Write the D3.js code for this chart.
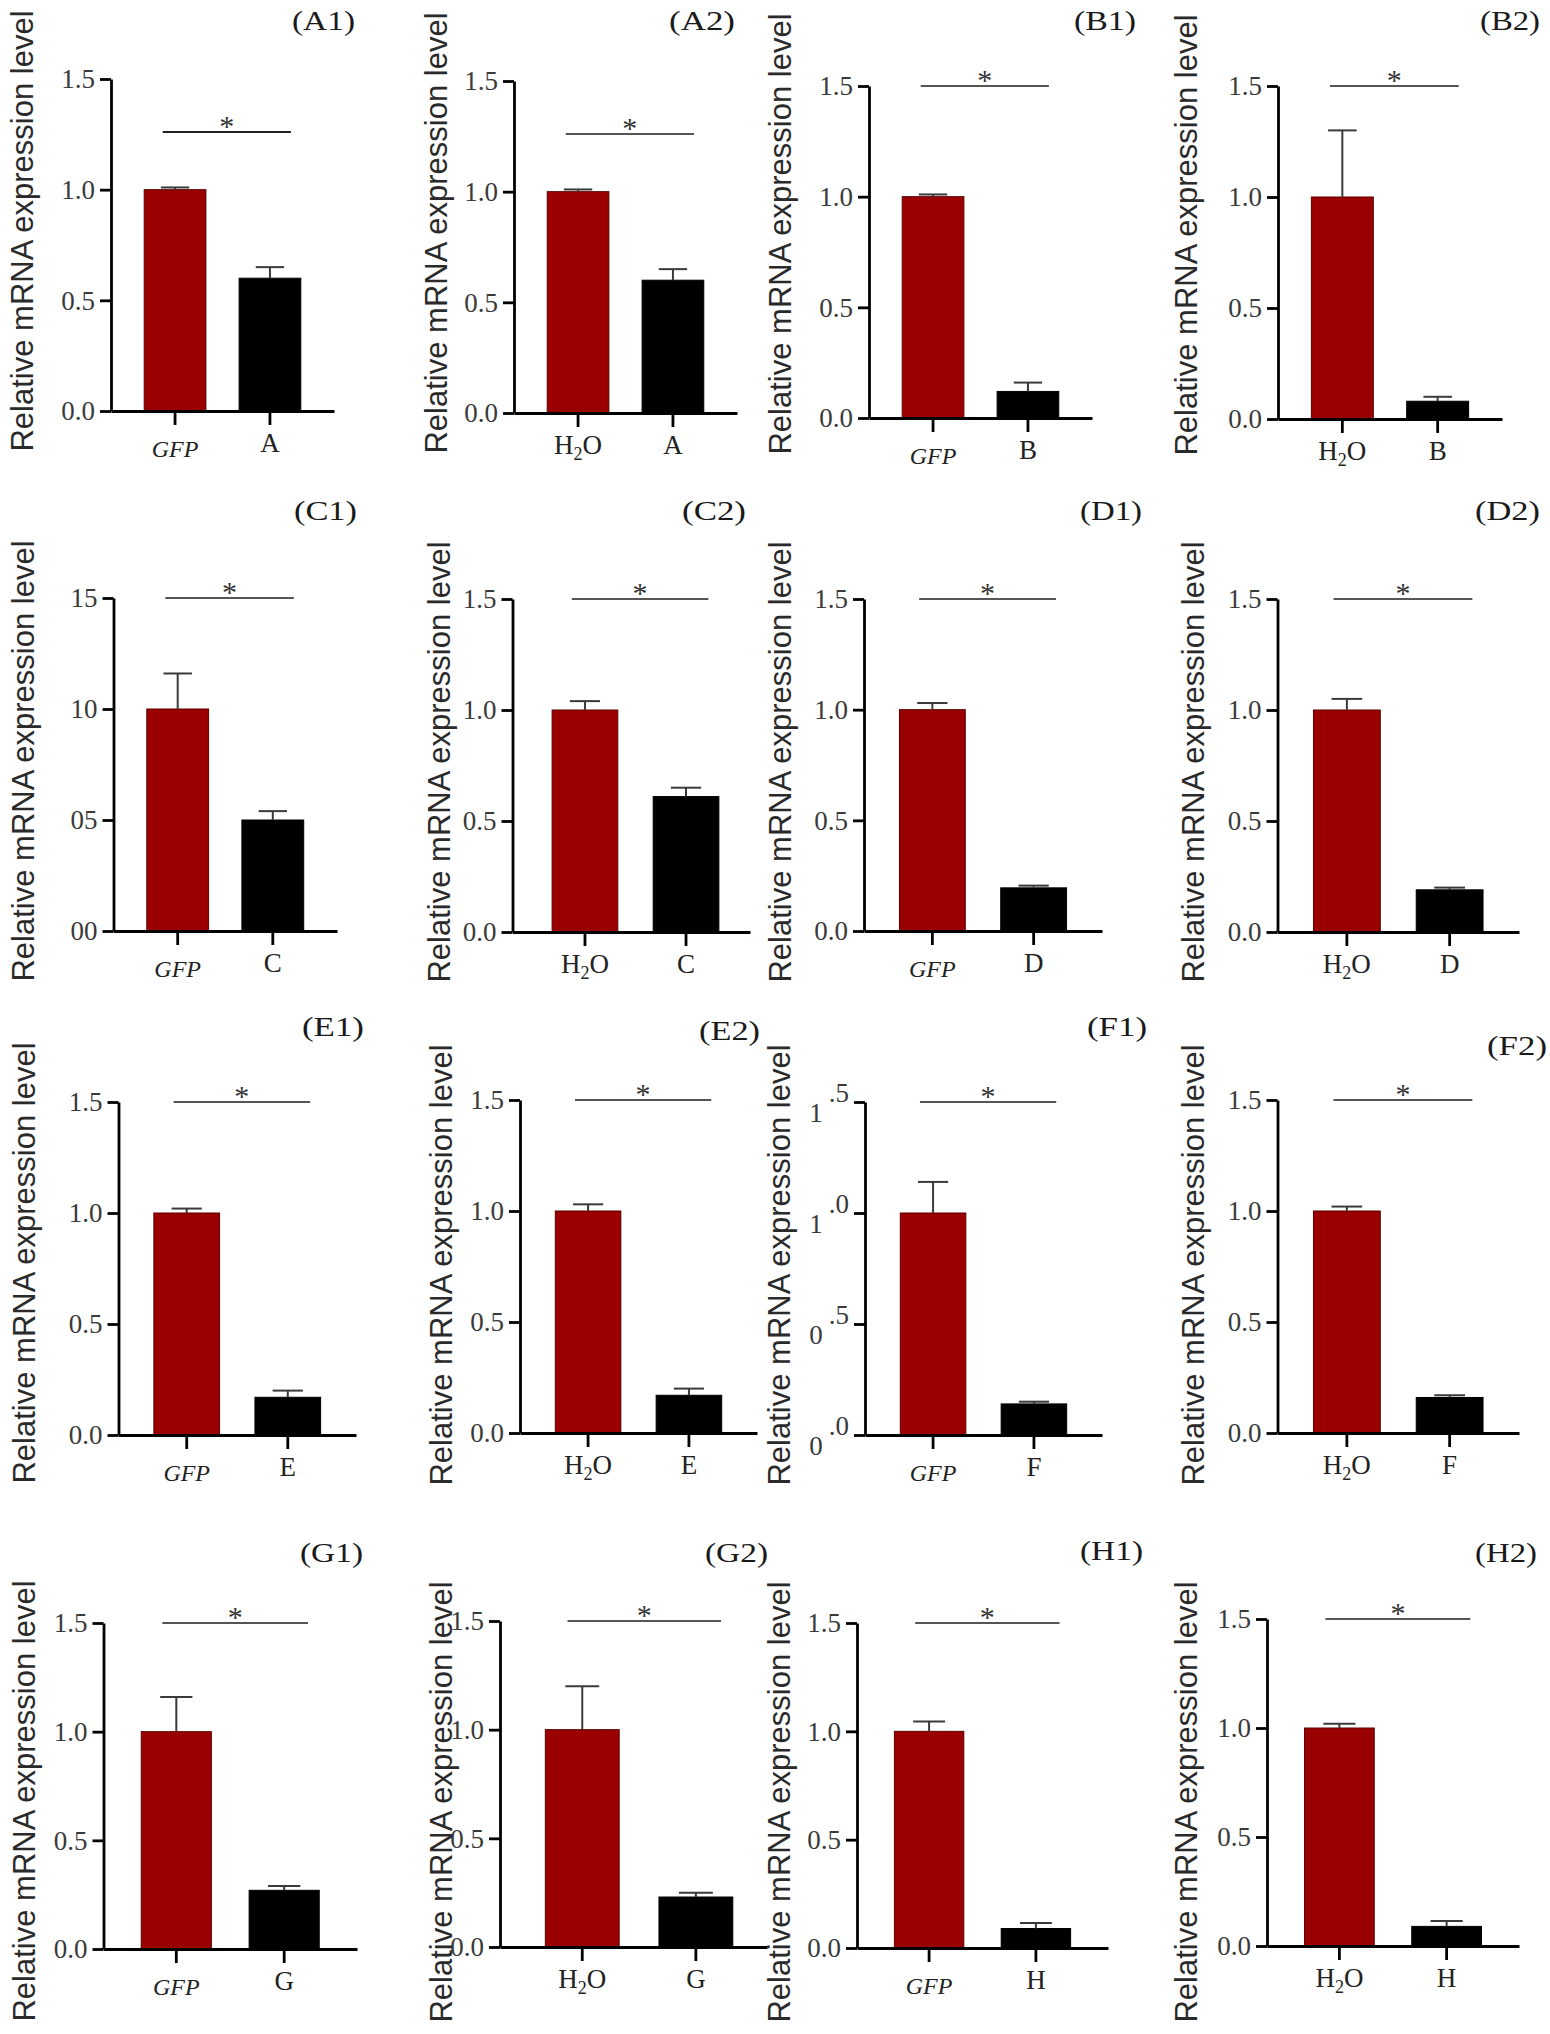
<!DOCTYPE html>
<html><head><meta charset="utf-8">
<script src="https://cdn.jsdelivr.net/npm/d3@7"></script>
<style>body{margin:0;background:#fff} svg{display:block}</style>
</head><body>
<svg id="fig" width="1550" height="2034"></svg>
<script>
// ---------- DATA ----------
const panelIds      = ["A1","A2","B1","B2","C1","C2","D1","D2","E1","E2","F1","F2","G1","G2","H1","H2"];
const controlLabels = ["GFP","H2O","GFP","H2O","GFP","H2O","GFP","H2O","GFP","H2O","GFP","H2O","GFP","H2O","GFP","H2O"];
const geneLabels    = ["A","A","B","B","C","C","D","D","E","E","F","F","G","G","H","H"];
const controlValues = [1,1,1,1,10,1,1,1,1,1,1,1,1,1,1,1];
const controlErrors = [0.01,0.01,0.01,0.30,1.6,0.04,0.03,0.05,0.02,0.03,0.14,0.02,0.16,0.20,0.045,0.02];
const geneValues    = [0.60,0.60,0.12,0.08,5.0,0.61,0.195,0.19,0.17,0.17,0.14,0.16,0.27,0.23,0.09,0.09];
const geneErrors    = [0.05,0.05,0.04,0.02,0.4,0.04,0.01,0.01,0.03,0.03,0.01,0.01,0.02,0.02,0.025,0.025];
const yMaxValues    = [1.5,1.5,1.5,1.5,15,1.5,1.5,1.5,1.5,1.5,1.5,1.5,1.5,1.5,1.5,1.5];
const bracketLevels = [1.26,1.26,1.5,1.5,15,1.5,1.5,1.5,1.5,1.5,1.5,1.5,1.5,1.5,1.5,1.5];
const tickValuesStd = [0,0.5,1.0,1.5];
const tickLabelsStd = ["0.0","0.5","1.0","1.5"];
const tickValuesC1  = [0,5,10,15];
const tickLabelsC1  = ["00","05","10","15"];
const yAxisTitle    = "Relative mRNA expression level";
const sigMark       = "*";

// ---------- LAYOUT (panel frames) ----------
const layout = [
  {ax:111,   xe:334,  y0:411,  yt:79,   tx:292,  tw:63, ty:30,   lx:33,   ly:231},
  {ax:514,   xe:737,  y0:413,  yt:81,   tx:669,  tw:66, ty:30,   lx:447,  ly:233},
  {ax:869,   xe:1092, y0:418,  yt:86,   tx:1074, tw:62, ty:30,   lx:791,  ly:234},
  {ax:1278,  xe:1502, y0:419,  yt:86,   tx:1480, tw:60, ty:30,   lx:1197, ly:235},
  {ax:113.5, xe:337,  y0:931,  yt:598,  tx:294,  tw:63, ty:520,  lx:34,   ly:761},
  {ax:512.5, xe:750,  y0:932,  yt:599,  tx:682,  tw:64, ty:520,  lx:450,  ly:762, align:0.56},
  {ax:864,   xe:1102, y0:931,  yt:599,  tx:1080, tw:62, ty:520,  lx:791,  ly:762},
  {ax:1277.5,xe:1519, y0:932,  yt:599,  tx:1475, tw:65, ty:520,  lx:1204, ly:762},
  {ax:118.5, xe:356,  y0:1435, yt:1102, tx:302,  tw:62, ty:1036, lx:35,   ly:1263},
  {ax:520,   xe:757,  y0:1433, yt:1100, tx:699,  tw:61, ty:1040, lx:452,  ly:1265},
  {ax:865,   xe:1102, y0:1435, yt:1102, tx:1087, tw:60, ty:1036, lx:790,  ly:1265, split:true},
  {ax:1277.5,xe:1519, y0:1433, yt:1100, tx:1487, tw:60, ty:1055, lx:1204, ly:1265},
  {ax:103.5, xe:357,  y0:1949, yt:1623, tx:300,  tw:63, ty:1562, lx:35,   ly:1801},
  {ax:500,   xe:767,  y0:1947, yt:1621, tx:705,  tw:63, ty:1562, lx:452,  ly:1802, align:0.57},
  {ax:857,   xe:1108, y0:1948, yt:1623, tx:1080, tw:63, ty:1560, lx:790,  ly:1802},
  {ax:1267,  xe:1519, y0:1946, yt:1619, tx:1475, tw:62, ty:1562, lx:1197, ly:1802}
];

const SERIF = "'Liberation Serif','Times New Roman',serif";
const SANS  = "'Liberation Sans',Arial,sans-serif";
const RED = "#9b0000";

const svg = d3.select("#fig");
svg.append("rect").attr("width",1550).attr("height",2034).attr("fill","#fff");

panelIds.forEach((id, i) => {
  const L = layout[i];
  const g = svg.append("g").attr("class","panel-"+id);
  const cats = [controlLabels[i], geneLabels[i]];
  const vals = [controlValues[i], geneValues[i]];
  const errs = [controlErrors[i], geneErrors[i]];
  const keys = ["c","g"];

  const x = d3.scaleBand().domain(keys).range([L.ax, L.xe])
    .paddingInner(0.35).paddingOuter(0.35).align(L.align ?? 0.5);
  const y = d3.scaleLinear().domain([0, yMaxValues[i]]).range([L.y0, L.yt]);
  const bw = x.bandwidth();

  const isC1 = id === "C1";
  const tv = isC1 ? tickValuesC1 : tickValuesStd;
  const tl = isC1 ? tickLabelsC1 : tickLabelsStd;

  // bars
  g.selectAll("rect.bar").data(keys).join("rect")
    .attr("x", k => x(k))
    .attr("y", (k,j) => y(vals[j]))
    .attr("width", bw)
    .attr("height", (k,j) => y(0) - y(vals[j]))
    .attr("fill", (k,j) => j === 0 ? RED : "#000")
    .attr("stroke", (k,j) => j === 0 ? "#5a0000" : "#000")
    .attr("stroke-width", 1);

  // error bars (upper)
  keys.forEach((k,j) => {
    const cx = x(k) + bw/2;
    const yTop = y(vals[j] + errs[j]);
    g.append("line").attr("x1",cx).attr("x2",cx)
      .attr("y1", y(vals[j])).attr("y2", yTop)
      .attr("stroke","#3a3a3a").attr("stroke-width",2);
    g.append("line").attr("x1",cx - bw*0.23).attr("x2",cx + bw*0.23)
      .attr("y1", yTop).attr("y2", yTop)
      .attr("stroke","#3a3a3a").attr("stroke-width",2);
  });

  // y axis
  const yAxis = d3.axisLeft(y).tickValues(tv).tickSize(11).tickSizeOuter(0).tickFormat("");
  const ya = g.append("g").attr("transform", `translate(${L.ax},0)`).call(yAxis);
  ya.selectAll("path,line").attr("stroke","#000").attr("stroke-width",2.8);

  // y tick labels
  tv.forEach((v,j) => {
    const t = g.append("text")
      .attr("x", L.ax - 16).attr("y", y(v)).attr("dy","0.35em")
      .attr("text-anchor","end")
      .attr("font-family", SERIF).attr("font-size", 27).attr("fill","#3a3a3a");
    if (L.split) {
      t.append("tspan").attr("dy", 20).text(tl[j].charAt(0));
      t.append("tspan").attr("dx", 6).attr("dy", -20).text(tl[j].slice(1));
    } else {
      t.text(tl[j]);
    }
  });

  // x axis
  const xAxis = d3.axisBottom(x).tickSize(14).tickSizeOuter(0).tickFormat("");
  const xa = g.append("g").attr("transform", `translate(0,${L.y0})`).call(xAxis);
  xa.selectAll("path,line").attr("stroke","#000").attr("stroke-width",2.8);

  // x tick labels
  keys.forEach((k,j) => {
    const cx = x(k) + bw/2;
    const lab = cats[j];
    if (lab === "GFP") {
      g.append("text").attr("x",cx).attr("y",L.y0 + 46)
        .attr("text-anchor","middle").attr("font-family",SERIF)
        .attr("font-style","italic").attr("font-size",24).attr("fill","#222").text("GFP");
    } else if (lab === "H2O") {
      const t = g.append("text").attr("x",cx).attr("y",L.y0 + 41)
        .attr("text-anchor","middle").attr("font-family",SERIF)
        .attr("font-size",27).attr("fill","#222");
      t.append("tspan").text("H");
      t.append("tspan").attr("font-size",18).attr("dy",6).text("2");
      t.append("tspan").attr("dy",-6).text("O");
    } else {
      g.append("text").attr("x",cx).attr("y",L.y0 + 41)
        .attr("text-anchor","middle").attr("font-family",SERIF)
        .attr("font-size",27).attr("fill","#222").text(lab);
    }
  });

  // significance bracket
  const bx1 = x("c") + bw*0.3;
  const bx2 = x("g") + bw*0.84;
  const by = y(bracketLevels[i]);
  g.append("line").attr("x1",bx1).attr("x2",bx2).attr("y1",by).attr("y2",by)
    .attr("stroke", i === 0 ? "#222" : "#555").attr("stroke-width",2);
  g.append("text").attr("x",(bx1+bx2)/2).attr("y",by + 4)
    .attr("text-anchor","middle").attr("font-family",SERIF)
    .attr("font-size",30).attr("fill","#333").text(sigMark);

  // y axis title
  g.append("text")
    .attr("transform", `translate(${L.lx},${L.ly}) rotate(-90)`)
    .attr("text-anchor","middle").attr("font-family",SANS)
    .attr("font-size",31).attr("fill","#2a2a2a").text(yAxisTitle);

  // panel title
  g.append("text").attr("x",L.tx).attr("y",L.ty)
    .attr("font-family",SERIF).attr("font-size",28).attr("fill","#1a1a1a")
    .attr("textLength",L.tw).attr("lengthAdjust","spacingAndGlyphs")
    .text("(" + id + ")");
});
</script>
</body></html>
